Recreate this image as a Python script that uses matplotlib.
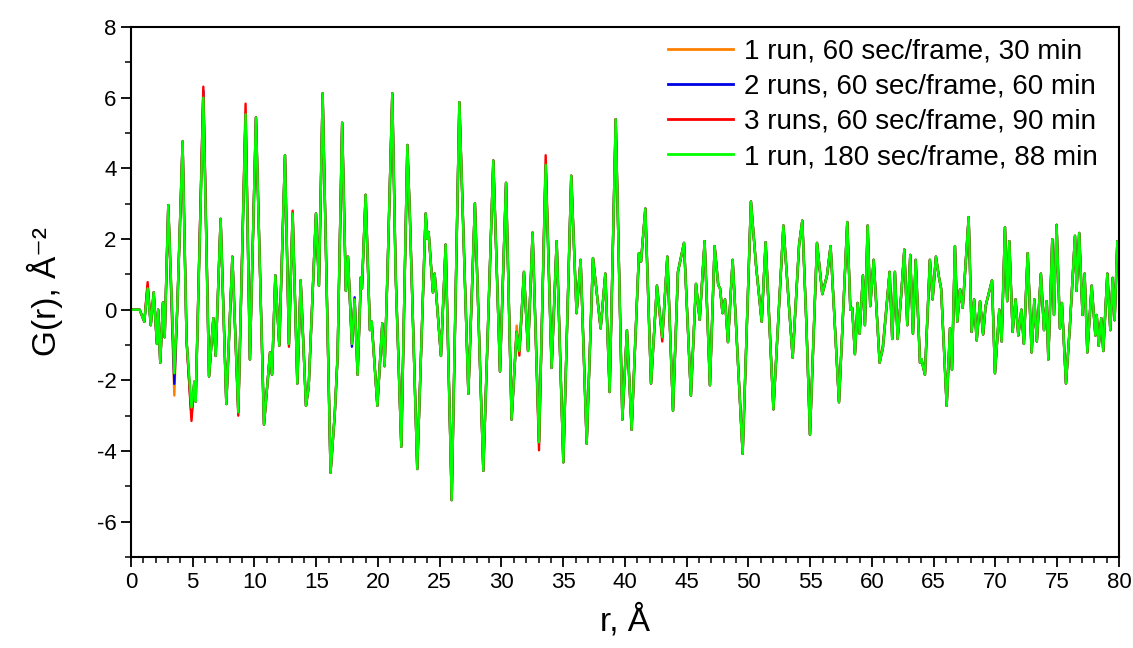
import numpy as np
import matplotlib
matplotlib.use('Agg')
import matplotlib.pyplot as plt
from matplotlib.ticker import MultipleLocator

plt.rcParams['font.family'] = ['Liberation Sans', 'DejaVu Sans']
plt.rcParams['axes.unicode_minus'] = False

# extrema (r in A, G(r) of the 180 sec/frame run)
r = [0, 0.7, 1.08, 1.35, 1.6, 1.84, 2.1, 2.2, 2.37, 2.59, 2.73, 3.02, 3.51, 3.75, 4.18, 4.5,
     4.9, 5.13, 5.24, 5.86, 6.32, 6.67, 6.86, 7.26, 7.72, 8.21, 8.69, 9.28, 9.63, 10.12, 10.77,
     11.26, 11.42, 11.69, 12.01, 12.47, 12.79, 13.09, 13.47, 13.74, 14.17, 14.39, 14.98, 15.22,
     15.52, 16.16, 16.5, 16.73, 17.1, 17.4, 17.57, 17.89, 18.11, 18.35, 18.62, 18.7, 19.0, 19.35,
     19.49, 19.95, 20.35, 20.54, 20.76, 21.16, 21.43, 21.89, 22.38, 22.59, 23.18, 23.86, 24.0,
     24.1, 24.45, 24.59, 25.1, 25.48, 25.97, 26.59, 27.32, 27.85, 28.53, 29.34, 29.88, 30.37,
     30.82, 31.23, 31.45, 31.82, 32.15, 32.52, 33.04, 33.58, 34.06, 34.47, 35.01, 35.65, 36.08,
     36.41, 36.9, 37.41, 38.03, 38.41, 38.76, 39.25, 39.79, 40.16, 40.54, 41.13, 41.3, 41.65,
     42.11, 42.59, 43.02, 43.43, 43.89, 44.29, 44.78, 45.34, 45.75, 46.05, 46.45, 46.88, 47.26,
     47.55, 47.7, 47.9, 48.1, 48.34, 48.72, 49.53, 50.2, 50.61, 51.07, 51.39, 52.02, 52.83, 53.2,
     53.58, 54.1, 54.36, 54.7, 54.98, 55.55, 55.98, 56.36, 56.65, 57.33, 58.0, 58.25, 58.4, 58.62,
     58.84, 59.0, 59.27, 59.43, 59.65, 59.86, 60.14, 60.62, 60.89, 61.43, 61.64, 61.86, 62.08,
     62.35, 62.62, 62.86, 63.1, 63.32, 63.54, 63.89, 64.0, 64.29, 64.69, 64.91, 65.18, 65.4, 65.6,
     66.05, 66.32, 66.48, 66.72, 66.91, 67.13, 67.35, 67.83, 68.07, 68.27, 68.48, 68.75, 69.0,
     69.2, 69.72, 69.96, 70.31, 70.5, 70.77, 70.95, 71.12, 71.39, 71.63, 71.85, 72.1, 72.3, 72.61,
     72.93, 73.15, 73.35, 73.68, 73.93, 74.14, 74.28, 74.6, 74.74, 74.95, 75.22, 75.38, 75.71,
     76.03, 76.44, 76.57, 76.78, 77.05, 77.22, 77.44, 77.79, 78.09, 78.2, 78.36, 78.57, 78.73,
     79.06, 79.3, 79.49, 79.65, 79.87, 80.0]
g_180 = [0, 0, -0.34, 0.6, -0.44, 0.49, -0.97, 0.0, -1.5, 0.2, -0.78, 2.96, -1.8, 0.05, 4.76, -0.87,
         -2.77, -2.04, -2.6, 6.0, -1.89, -0.24, -1.31, 2.57, -2.67, 1.5, -2.9, 5.53, -1.41, 5.44, -3.25,
         -1.21, -1.84, 0.97, -1.02, 4.37, -0.97, 2.72, -2.09, 0.83, -2.72, -2.18, 2.72, 0.68,
         6.12, -4.61, -2.96, -1.31, 5.29, 0.53, 1.5, -0.97, 0.29, -1.84, 0.92, 0.6, 3.25, -0.58,
         -0.34, -2.72, -0.39, -1.6, 0.92, 6.12, 1.02, -3.88, 4.66, 2.57, -4.51, 2.72, 2.0,
         2.2, 0.49, 1.02, -1.31, 1.84, -5.39, 5.87, -2.38, 3.01, -4.56, 4.22, -1.75, 3.59,
         -3.11, -0.63, -1.17, 1.07, -1.17, 2.18, -3.75, 4.1, -1.65, 1.94, -4.32, 3.79, -0.1,
         1.41, -3.79, 1.46, -0.53, 1.02, -2.33, 5.39, -3.11, -0.58, -3.4, 1.6, 1.36, 2.86,
         -2.09, 0.68, -0.78, 1.5, -2.86, 1.07, 1.89, -2.43, 0.73, -0.29, 1.94, -2.14, 1.8,
         0.7, 0.6, -0.1, 0.29, -0.92, 1.41, -4.08, 3.06, 1.26, -0.34, 1.91, -2.82, 2.38, 0.5,
         -1.36, 1.84, 2.52, -0.5, -3.54, 1.89, 0.44, 0.97, 1.8, -2.62, 2.48, 0.0, 0.05, -1.26,
         0.19, -0.68, 0.97, -0.44, 2.38, 0.1, 1.41, -1.5, -1.07, 1.07, -0.83, 1.07, -0.83,
         0.34, 1.7, -0.44, 1.55, -0.68, 1.41, -1.5, -1.4, -1.84, 1.41, 0.29, 1.5, 0.97, 0.6,
         -2.72, -0.53, -1.7, 1.8, -0.34, 0.58, 0.05, 2.62, -0.63, 0.29, -0.87, 0.24, -0.7,
         0.1, 0.83, -1.8, 0.0, -0.9, 2.33, 0.24, 1.94, -0.63, 0.29, -0.73, 0.0, -0.97, 1.6,
         -1.21, 0.29, -0.9, 1.02, -0.58, 0.24, -1.41, 1.99, -0.15, 2.4, -0.53, 0.19, -2.09,
         -0.44, 2.09, 0.53, 2.17, -0.15, 1.02, -1.21, 0.68, -0.73, -0.15, -1.02, -0.24, -1.17,
         1.02, -0.58, 0.9, -0.3, 1.94, 1.6]

# points where the shorter runs differ visibly from the 180 sec/frame run
orange_diff = {1.35: 0.7, 3.51: -2.43, 4.9: -2.95, 5.86: 6.15, 31.23: -0.45, 60.89: -0.95}
blue_diff = {1.35: 0.65, 3.51: -2.1, 4.9: -3.0, 5.86: 6.2, 17.89: -1.05, 18.11: 0.35}
red_diff = {1.35: 0.78, 4.9: -3.15, 5.86: 6.31, 8.69: -3.0, 9.28: 5.83, 12.79: -1.05,
            13.09: 2.8, 33.04: -3.98, 33.58: 4.37, 31.45: -1.3, 43.02: -0.9}

labels = ['1 run, 60 sec/frame, 30 min', '2 runs, 60 sec/frame, 60 min',
          '3 runs, 60 sec/frame, 90 min', '1 run, 180 sec/frame, 88 min']
colors = ['#FF8000', '#0000E6', '#FF0000', '#00FF00']


def series(diff):
    return [diff.get(x, y) for x, y in zip(r, g_180)]


fig = plt.figure(figsize=(11.33, 6.48), dpi=100)
ax = fig.add_axes([0.1156, 0.1404, 0.872, 0.818])
all_g = [series(orange_diff), series(blue_diff), series(red_diff), g_180]
for g, c, lab in zip(all_g, colors, labels):
    ax.plot(r, g, color=c, lw=1.7, label=lab)

ax.set_xlim(0, 80)
ax.set_ylim(-7, 8)
ax.xaxis.set_major_locator(MultipleLocator(5))
ax.xaxis.set_minor_locator(MultipleLocator(1))
ax.yaxis.set_major_locator(MultipleLocator(2))
ax.yaxis.set_minor_locator(MultipleLocator(1))
ax.tick_params(which='major', length=7, width=1.3, labelsize=16, direction='out')
ax.tick_params(which='minor', length=4, width=1.1, direction='out')
for s in ax.spines.values():
    s.set_linewidth(1.5)
ax.set_xlabel('r, Å', fontsize=24, labelpad=8)
ax.set_ylabel('G(r), Å⁻²', fontsize=24, labelpad=24)

leg = ax.legend(loc='upper right', bbox_to_anchor=(0.99, 0.999), fontsize=20,
                frameon=False, handlelength=2.35, handletextpad=0.4, labelspacing=0.33,
                borderaxespad=0.0)
for h in leg.get_lines():
    h.set_linewidth(2)

plt.savefig('out.png', dpi=100)
plt.close()
